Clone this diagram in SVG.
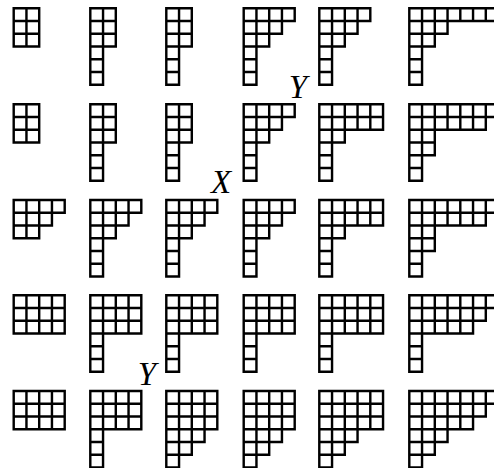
<svg xmlns="http://www.w3.org/2000/svg" xmlns:xlink="http://www.w3.org/1999/xlink" width="494" height="468" viewBox="0 0 494 468">
<style>
.yd{fill:none;stroke:#000;stroke-width:0.19;stroke-linecap:square}
.lbl{font-family:"Liberation Serif","Times New Roman",serif;font-style:italic;font-size:33px;fill:#000;text-anchor:middle}
</style>
<defs>
<path id="A" class="yd" d="M0 0H2M0 1H2M0 2H2M0 3H2M0 0V3M1 0V3M2 0V3"/>
<path id="B" class="yd" d="M0 0H2M0 1H2M0 2H2M0 3H2M0 4H1M0 5H1M0 6H1M0 0V6M1 0V6M2 0V3"/>
<path id="C" class="yd" d="M0 0H4M0 1H4M0 2H3M0 3H2M0 4H1M0 5H1M0 6H1M0 0V6M1 0V6M2 0V3M3 0V2M4 0V1"/>
<path id="C7" class="yd" d="M0 0H7.5M0 1H7.5M0 2H3M0 3H2M0 4H1M0 5H1M0 6H1M0 0V6M1 0V6M2 0V3M3 0V2M4 0V1M5 0V1M6 0V1M7 0V1"/>
<path id="D" class="yd" d="M0 0H5M0 1H5M0 2H5M0 3H2M0 4H1M0 5H1M0 6H1M0 0V6M1 0V6M2 0V3M3 0V2M4 0V2M5 0V2"/>
<path id="E" class="yd" d="M0 0H7.5M0 1H7.5M0 2H6M0 3H2M0 4H2M0 5H1M0 6H1M0 0V6M1 0V6M2 0V4M3 0V2M4 0V2M5 0V2M6 0V2M7 0V1"/>
<path id="F" class="yd" d="M0 0H4M0 1H4M0 2H3M0 3H2M0 0V3M1 0V3M2 0V3M3 0V2M4 0V1"/>
<path id="G" class="yd" d="M0 0H4M0 1H4M0 2H4M0 3H4M0 0V3M1 0V3M2 0V3M3 0V3M4 0V3"/>
<path id="H" class="yd" d="M0 0H4M0 1H4M0 2H4M0 3H4M0 4H1M0 5H1M0 6H1M0 0V6M1 0V6M2 0V3M3 0V3M4 0V3"/>
<path id="I" class="yd" d="M0 0H5M0 1H5M0 2H5M0 3H5M0 4H1M0 5H1M0 6H1M0 0V6M1 0V6M2 0V3M3 0V3M4 0V3M5 0V3"/>
<path id="J" class="yd" d="M0 0H7.5M0 1H7.5M0 2H6M0 3H5M0 4H1M0 5H1M0 6H1M0 0V6M1 0V6M2 0V3M3 0V3M4 0V3M5 0V3M6 0V2M7 0V1"/>
<path id="K" class="yd" d="M0 0H4M0 1H4M0 2H4M0 3H4M0 4H3M0 5H2M0 6H1M0 0V6M1 0V6M2 0V5M3 0V4M4 0V3"/>
<path id="L" class="yd" d="M0 0H5M0 1H5M0 2H5M0 3H5M0 4H3M0 5H2M0 6H1M0 0V6M1 0V6M2 0V5M3 0V4M4 0V3M5 0V3"/>
<path id="M" class="yd" d="M0 0H7.5M0 1H7.5M0 2H6M0 3H5M0 4H3M0 5H2M0 6H1M0 0V6M1 0V6M2 0V5M3 0V4M4 0V3M5 0V3M6 0V2M7 0V1"/>
</defs>
<g id="connectors"></g>
<g id="n11" transform="translate(13.7,8.3) scale(12.75)"><use href="#A"/></g>
<g id="n12" transform="translate(90.3,8.3) scale(12.75)"><use href="#B"/></g>
<g id="n13" transform="translate(166.3,8.3) scale(12.75)"><use href="#B"/></g>
<g id="n14" transform="translate(243.7,8.3) scale(12.75)"><use href="#C"/></g>
<g id="n15" transform="translate(319.3,8.3) scale(12.75)"><use href="#C"/></g>
<g id="n16" transform="translate(409.3,8.3) scale(12.75)"><use href="#C7"/></g>

<g id="n21" transform="translate(13.7,104.3) scale(12.75)"><use href="#A"/></g>
<g id="n22" transform="translate(90.3,104.3) scale(12.75)"><use href="#B"/></g>
<g id="n23" transform="translate(166.3,104.3) scale(12.75)"><use href="#B"/></g>
<g id="n24" transform="translate(243.7,104.3) scale(12.75)"><use href="#C"/></g>
<g id="n25" transform="translate(319.3,104.3) scale(12.75)"><use href="#D"/></g>
<g id="n26" transform="translate(409.3,104.3) scale(12.75)"><use href="#E"/></g>

<g id="n31" transform="translate(13.7,200) scale(12.75)"><use href="#F"/></g>
<g id="n32" transform="translate(90.3,200) scale(12.75)"><use href="#C"/></g>
<g id="n33" transform="translate(166.3,200) scale(12.75)"><use href="#C"/></g>
<g id="n34" transform="translate(243.7,200) scale(12.75)"><use href="#C"/></g>
<g id="n35" transform="translate(319.3,200) scale(12.75)"><use href="#D"/></g>
<g id="n36" transform="translate(409.3,200) scale(12.75)"><use href="#E"/></g>

<g id="n41" transform="translate(13.7,295.3) scale(12.75)"><use href="#G"/></g>
<g id="n42" transform="translate(90.3,295.3) scale(12.75)"><use href="#H"/></g>
<g id="n43" transform="translate(166.3,295.3) scale(12.75)"><use href="#H"/></g>
<g id="n44" transform="translate(243.7,295.3) scale(12.75)"><use href="#H"/></g>
<g id="n45" transform="translate(319.3,295.3) scale(12.75)"><use href="#I"/></g>
<g id="n46" transform="translate(409.3,295.3) scale(12.75)"><use href="#J"/></g>

<g id="n51" transform="translate(13.7,391) scale(12.75)"><use href="#G"/></g>
<g id="n52" transform="translate(90.3,391) scale(12.75)"><use href="#H"/></g>
<g id="n53" transform="translate(166.3,391) scale(12.75)"><use href="#K"/></g>
<g id="n54" transform="translate(243.7,391) scale(12.75)"><use href="#K"/></g>
<g id="n55" transform="translate(319.3,391) scale(12.75)"><use href="#L"/></g>
<g id="n56" transform="translate(409.3,391) scale(12.75)"><use href="#M"/></g>

<g id="labels">
<text class="lbl" x="298" y="98">Y</text>
<text class="lbl" x="221" y="193">X</text>
<text class="lbl" x="147" y="385">Y</text>
</g>
</svg>
